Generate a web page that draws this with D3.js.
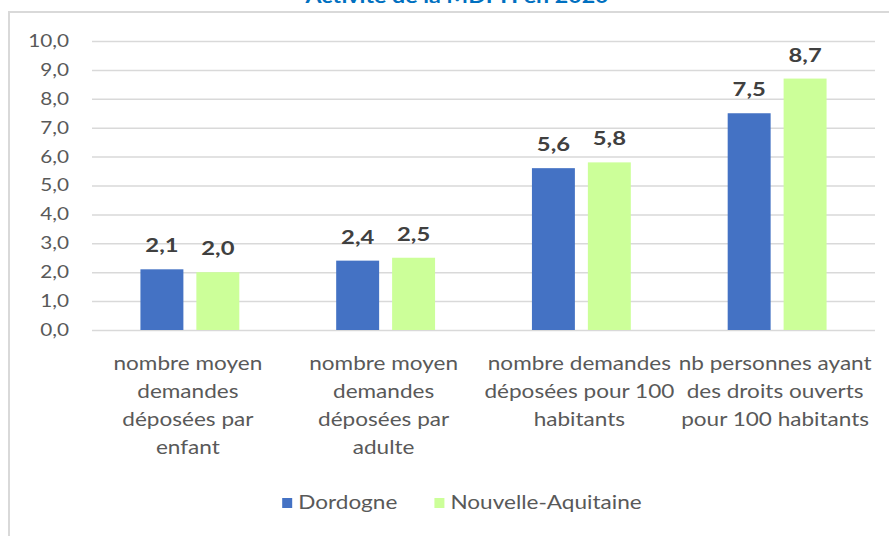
<!DOCTYPE html>
<html>
<head>
<meta charset="utf-8">
<script src="https://cdn.jsdelivr.net/npm/d3@7"></script>
<style>
  body { margin: 0; background: #fff; }
  svg { display: block; font-family: Lato, "Open Sans", sans-serif; }
</style>
</head>
<body>
<script>
// Data
var categories = ["enfant", "adulte", "demandes100", "droits100"];
var categoryLines = [
  ["nombre moyen", "demandes", "déposées par", "enfant"],
  ["nombre moyen", "demandes", "déposées par", "adulte"],
  ["nombre demandes", "déposées pour 100", "habitants"],
  ["nb personnes ayant", "des droits ouverts", "pour 100 habitants"]
];
var seriesNames = ["Dordogne", "Nouvelle-Aquitaine"];
var dordogne = [2.1, 2.4, 5.6, 7.5];
var nouvelleAquitaine = [2.0, 2.5, 5.8, 8.7];
var yTicks = [0, 1, 2, 3, 4, 5, 6, 7, 8, 9, 10];
var colors = ["#4472C4", "#CCFF99"];

var width = 889,
    height = 536;

// the original screenshot is stretched sideways, so text is too
var SX = 1.22;

var frLocale = d3.formatLocale({decimal: ",", thousands: " ", grouping: [3], currency: ["", " €"]});
var fmt = frLocale.format(".1f");

var svg = d3.select("body")
  .append("svg")
  .attr("width", width)
  .attr("height", height);

// chart frame (only top and left edges are visible)
svg.append("rect")
  .attr("x", 9)
  .attr("y", 12)
  .attr("width", 1000)
  .attr("height", 1000)
  .attr("fill", "none")
  .attr("stroke", "#d9d9d9")
  .attr("stroke-width", 2);

// title, cut by the top of the picture
svg.append("text")
  .attr("transform", "translate(457,3) scale(" + SX + ",1)")
  .attr("text-anchor", "middle")
  .attr("font-weight", "bold")
  .attr("font-size", 19)
  .attr("fill", "#0070C0")
  .text("Activité de la MDPH en 2020");

var plotLeft = 92,
    plotRight = 875;

var y = d3.scaleLinear()
  .domain([0, 10])
  .range([330, 41]);

var x = d3.scaleBand()
  .domain(categories)
  .range([plotLeft, plotRight])
  .padding(0);

var xInner = d3.scaleBand()
  .domain(seriesNames)
  .range([0, x.bandwidth()])
  .paddingInner(0.232)
  .paddingOuter(0.866);

// y axis with gridlines
var yAxis = svg.append("g")
  .attr("transform", "translate(" + plotLeft + ",0)")
  .call(d3.axisLeft(y)
    .tickValues(yTicks)
    .tickSize(-(plotRight - plotLeft))
    .tickFormat(fmt));

yAxis.select(".domain").remove();
yAxis.selectAll(".tick line")
  .attr("stroke", "#d9d9d9")
  .attr("stroke-width", 1.5);
yAxis.selectAll(".tick text")
  .attr("x", -23 / SX)
  .attr("transform", "scale(" + SX + ",1)")
  .attr("font-family", "Lato")
  .attr("font-size", 17)
  .attr("fill", "#595959");

// bars
var seriesData = [dordogne, nouvelleAquitaine];

var groups = svg.selectAll(".series")
  .data(seriesData)
  .enter()
  .append("g")
  .attr("class", "series")
  .attr("fill", function(d, i){ return colors[i]; });

groups.each(function(vals, si){
  var g = d3.select(this);
  g.selectAll("rect")
    .data(vals)
    .enter()
    .append("rect")
    .attr("x", function(d, i){ return x(categories[i]) + xInner(seriesNames[si]); })
    .attr("y", function(d){ return y(d); })
    .attr("width", xInner.bandwidth())
    .attr("height", function(d){ return y(0) - y(d); });

  // value labels
  g.selectAll("text")
    .data(vals)
    .enter()
    .append("text")
    .attr("transform", function(d, i){
      var cx = x(categories[i]) + xInner(seriesNames[si]) + xInner.bandwidth() / 2;
      return "translate(" + cx + "," + (y(d) - 17) + ") scale(" + SX + ",1)";
    })
    .attr("text-anchor", "middle")
    .attr("font-weight", "bold")
    .attr("font-size", 19.5)
    .attr("fill", "#404040")
    .text(function(d){ return fmt(d); });
});

// category labels
var catLabels = svg.selectAll(".cat")
  .data(categoryLines)
  .enter()
  .append("text")
  .attr("class", "cat")
  .attr("transform", function(d, i){
    return "translate(" + (x(categories[i]) + x.bandwidth() / 2 - 2) + ",370) scale(" + SX + ",1)";
  })
  .attr("text-anchor", "middle")
  .attr("font-size", 18.5)
  .attr("fill", "#595959");

catLabels.selectAll("tspan")
  .data(function(d){ return d; })
  .enter()
  .append("tspan")
  .attr("x", 0)
  .attr("y", function(d, i){ return i * 28; })
  .text(function(d){ return d; });

// legend
var legend = svg.append("g");
var legendItems = legend.selectAll("g")
  .data(seriesNames)
  .enter()
  .append("g");

legendItems.append("rect")
  .attr("y", 498)
  .attr("width", 10)
  .attr("height", 10)
  .attr("fill", function(d, i){ return colors[i]; });

legendItems.append("text")
  .attr("font-size", 18.5)
  .attr("fill", "#595959")
  .text(function(d){ return d; });

// lay legend out from measured text widths, centred
var offs = [],
    cursor = 0;
legendItems.each(function(d, i){
  var w = d3.select(this).select("text").node().getComputedTextLength() * SX;
  offs.push(cursor);
  cursor += 10 + 6 + w + (i < seriesNames.length - 1 ? 37 : 0);
});
var legendLeft = 462 - cursor / 2;
legendItems.each(function(d, i){
  var item = d3.select(this);
  var lx = legendLeft + offs[i];
  item.select("rect").attr("x", lx);
  item.select("text")
    .attr("transform", "translate(" + (lx + 16) + ",509) scale(" + SX + ",1)");
});
</script>
</body>
</html>
